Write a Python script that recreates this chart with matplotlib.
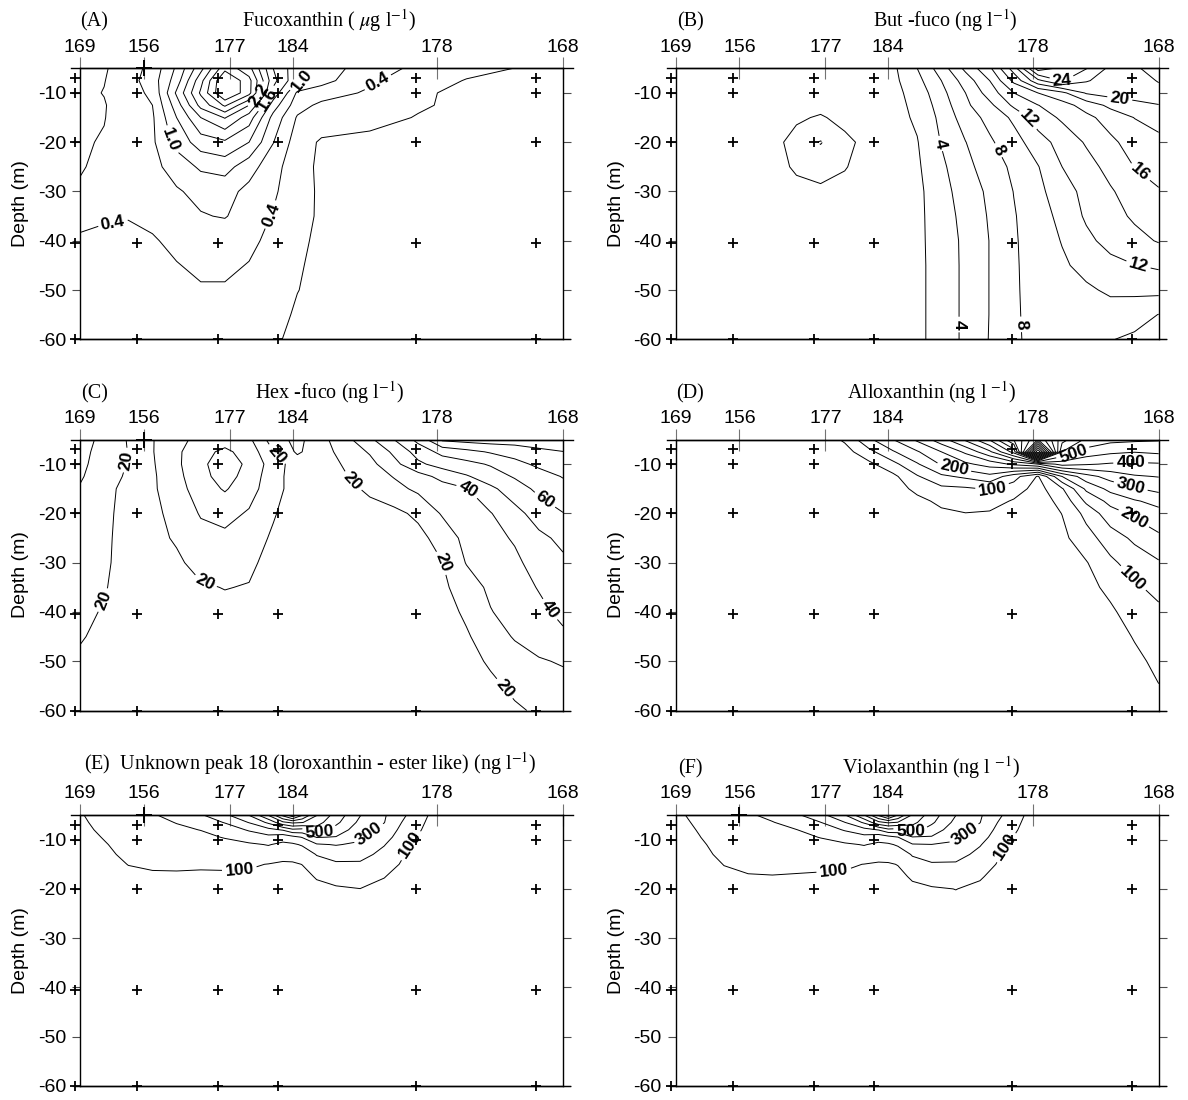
import numpy as np
import matplotlib
matplotlib.use('Agg')
import matplotlib.pyplot as plt

plt.rcParams['font.family'] = 'Liberation Sans'
plt.rcParams['mathtext.fontset'] = 'stix'
plt.rcParams['axes.unicode_minus'] = False

# stations along the transect (top axis), position in % of section length
stations = ['169', '156', '177', '184', '178', '168']
station_pos = [0, 13.2, 31.0, 44.0, 73.9, 100]
# positions of the casts actually sampled, and bottle depths (m)
cast_pos = [-1, 11.8, 28.6, 41.0, 69.6, 94.5]
bottle_depth = [-7, -10, -20, -40.5, -60]

# ---------------- (A) Fucoxanthin, ug/l  (rows = depth, cols = position)
fuco_x = [0, 5, 10, 15, 20, 25, 30, 35, 40, 45, 50, 60, 70, 80, 90, 100]
fuco_z = [-5, -7.5, -10, -12.5, -15, -20, -25, -30, -35, -40, -45, -50, -55, -60]
fuco = [
    [0.25, 0.37, 0.55, 0.80, 1.35, 2.10, 3.00, 2.60, 1.60, 1.10, 0.85, 0.55, 0.33, 0.16, 0.098, 0.07],
    [0.30, 0.39, 0.58, 0.85, 1.45, 2.40, 3.45, 2.90, 1.70, 1.05, 0.80, 0.46, 0.20, 0.09, 0.06, 0.05],
    [0.33, 0.41, 0.60, 0.75, 1.65, 2.55, 3.45, 2.90, 1.50, 0.65, 0.55, 0.35, 0.12, 0.07, 0.05, 0.04],
    [0.35, 0.38, 0.58, 0.70, 1.45, 2.30, 2.85, 2.20, 1.15, 0.52, 0.33, 0.20, 0.12, 0.06, 0.04, 0.03],
    [0.36, 0.39, 0.55, 0.66, 1.30, 1.90, 2.22, 1.75, 0.90, 0.37, 0.28, 0.16, 0.09, 0.05, 0.03, 0.02],
    [0.37, 0.42, 0.52, 0.65, 1.10, 1.45, 1.55, 1.30, 0.71, 0.25, 0.06, 0.05, 0.04, 0.03, 0.02, 0.02],
    [0.38, 0.46, 0.55, 0.62, 0.82, 1.05, 1.12, 0.82, 0.52, 0.20, 0.05, 0.04, 0.03, 0.03, 0.02, 0.02],
    [0.43, 0.48, 0.52, 0.58, 0.67, 0.78, 0.80, 0.62, 0.45, 0.20, 0.06, 0.04, 0.03, 0.02, 0.02, 0.02],
    [0.42, 0.42, 0.41, 0.45, 0.55, 0.68, 0.72, 0.55, 0.38, 0.19, 0.06, 0.04, 0.03, 0.02, 0.02, 0.02],
    [0.39, 0.36, 0.35, 0.38, 0.45, 0.50, 0.50, 0.45, 0.34, 0.15, 0.05, 0.04, 0.03, 0.02, 0.02, 0.02],
    [0.33, 0.30, 0.30, 0.33, 0.39, 0.44, 0.44, 0.39, 0.28, 0.12, 0.05, 0.04, 0.03, 0.02, 0.02, 0.02],
    [0.28, 0.26, 0.26, 0.28, 0.33, 0.38, 0.38, 0.32, 0.22, 0.105, 0.04, 0.03, 0.03, 0.02, 0.02, 0.02],
    [0.25, 0.24, 0.24, 0.25, 0.28, 0.30, 0.30, 0.26, 0.18, 0.07, 0.03, 0.03, 0.02, 0.02, 0.02, 0.02],
    [0.23, 0.22, 0.22, 0.23, 0.25, 0.26, 0.26, 0.22, 0.13, 0.05, 0.03, 0.03, 0.02, 0.02, 0.02, 0.02],
]
fuco_levels = [0.1, 0.4, 0.7, 1.0, 1.3, 1.6, 1.9, 2.2, 2.5, 2.8, 3.1]

# ---------------- (B) But-fuco, ng/l
but_x = [0, 10, 20, 25, 30, 35, 40, 45, 50, 55, 60, 65, 70, 75, 80, 85, 90, 95, 100]
but_z = [-5, -7.5, -10, -12.5, -15, -20, -25, -30, -35, -40, -45, -50, -55, -60]
but = [
    [1, 1, 1, 1, 1, 1, 1, 1.6, 4.0, 7.0, 10.5, 13.6, 19.0, 27.0, 25.5, 24.1, 21.5, 21.8, 22.6],
    [1, 1, 1, 1, 1, 1, 1, 1.5, 3.4, 6.0, 8.9, 12.0, 16.5, 21.5, 24.2, 22.2, 21.0, 21.3, 22.1],
    [1, 1, 1, 1, 1, 1, 1, 1.4, 2.8, 5.4, 8.0, 10.9, 14.0, 16.0, 17.5, 20.2, 20.8, 21.1, 21.5],
    [1, 1, 1, 1, 1, 1, 1, 1.35, 2.5, 4.9, 7.6, 9.5, 12.4, 13.95, 15.2, 16.8, 18.5, 19.3, 19.9],
    [1, 1, 1, 0.48, -0.35, 1.0, 1, 1.3, 2.3, 4.5, 7.0, 8.6, 10.4, 13.0, 14.3, 15.5, 16.8, 18.05, 18.6],
    [1, 1, 1, -1.13, -2.1, -0.8, 1, 1.2, 1.9, 4.1, 5.95, 7.7, 9.2, 11.1, 12.8, 14.2, 15.6, 16.8, 17.6],
    [1, 1, 1, -0.39, -1.0, -0.14, 1, 1.15, 1.7, 3.6, 5.4, 7.0, 8.4, 9.9, 12.0, 13.3, 14.6, 16.05, 16.5],
    [1, 1, 1, 0.75, 0.47, 0.71, 1, 1.1, 1.5, 3.3, 4.9, 6.4, 8.05, 9.5, 11.1, 12.6, 13.8, 14.9, 15.9],
    [1, 1, 1, 1, 1, 1, 1, 1.05, 1.5, 3.1, 4.6, 6.2, 7.85, 9.2, 10.5, 12.3, 13.3, 14.3, 15.0],
    [1, 1, 1, 1, 1, 1, 1, 1.0, 1.5, 3.0, 4.4, 6.05, 7.8, 8.9, 10.1, 11.5, 12.7, 13.4, 14.15],
    [1, 1, 1, 1, 1, 1, 1, 1.0, 1.5, 2.9, 4.4, 6.05, 7.8, 8.7, 9.7, 10.6, 11.4, 11.95, 12.3],
    [1, 1, 1, 1, 1, 1, 1, 1.0, 1.5, 2.9, 4.4, 6.05, 7.8, 8.6, 9.2, 9.7, 10.3, 10.4, 10.6],
    [1, 1, 1, 1, 1, 1, 1, 1.0, 1.5, 2.9, 4.4, 6.05, 7.8, 8.5, 8.9, 9.1, 9.2, 8.9, 7.95],
    [1, 1, 1, 1, 1, 1, 1, 1.0, 1.5, 2.9, 4.4, 6.1, 7.8, 8.4, 8.7, 8.6, 8.1, 7.6, 7.3],
]
but_levels = list(range(-2, 28, 2))

# ---------------- (C) Hex-fuco, ng/l
hex_x = list(range(0, 101, 5))
hex_z = [-5, -7.5, -10, -12.5, -15, -20, -25, -30, -35, -40, -45, -50, -55, -60]
hexf = [
    [17, 22, 19.8, 19.5, 27, 33, 36, 32, 15, 7, 17, 27, 38, 50, 63, 82, 84, 85, 85, 85, 86],
    [18, 22.5, 19.9, 19.5, 28, 37, 42, 36, 20.5, 8.5, 16, 24, 31, 42, 54, 63, 67, 71, 74, 78, 79.8],
    [19, 22, 19.8, 19, 28, 38, 45, 38, 25, 15, 16, 21, 27, 37, 48, 54, 57, 61, 67, 72, 76],
    [19.7, 21.5, 19.5, 18.5, 27, 37, 44, 36, 24, 15, 15.5, 19.5, 25, 30.5, 36, 43, 49, 55, 61, 66, 70.5],
    [20.2, 21, 19, 18.5, 26, 35, 41, 34, 24, 15, 14, 17, 22, 27, 32, 36, 39.5, 48, 55, 62.5, 67],
    [22, 21, 18.5, 18.5, 22, 31, 33, 29, 21, 14, 13, 14, 16, 17.5, 22, 31, 35, 39.5, 47, 54, 59.7],
    [22.5, 21, 18, 17.5, 21, 26, 28, 25, 18.5, 13, 12, 12, 13, 14.5, 17, 24, 33, 37, 41, 48, 52],
    [23, 21, 17.5, 16.5, 18.5, 23, 24, 22, 16.5, 12.5, 12, 12, 12.5, 13, 15, 19.8, 30.5, 34, 38, 44, 48.5],
    [22.5, 20.5, 17, 16, 17, 19, 20.3, 19.5, 15, 12.5, 12, 12, 12.5, 13, 14, 18, 25, 32, 36.5, 40.5, 44],
    [21.5, 19.5, 16.5, 15.5, 16, 17, 17.5, 17, 14, 12.5, 12, 12, 12, 12.5, 13, 16.5, 21.5, 29.5, 34, 38, 42],
    [20.5, 18.5, 16, 15, 15, 15.5, 16, 15.5, 13, 12, 11.5, 11.5, 12, 12.5, 13, 15.5, 19, 24.5, 31, 35, 38.5],
    [19, 17.5, 15.5, 14.5, 14.5, 14.5, 15, 14.5, 12.5, 12, 11.5, 11.5, 11.5, 12, 12.5, 14.5, 17.5, 21, 25, 29, 31],
    [18, 17, 15, 14, 14, 14, 14, 14, 12, 11.5, 11, 11, 11.5, 12, 12, 13.5, 16, 18.5, 21.5, 24.5, 26.5],
    [17.5, 16.5, 14.5, 13.5, 13.5, 13.5, 13.5, 13.5, 11.5, 11.5, 11, 11, 11, 11.5, 11.5, 13, 15, 17, 19, 21, 23],
]
hex_levels = [10, 20, 30, 40, 50, 60, 70, 80]

# ---------------- (D) Alloxanthin, ng/l
allo_x = [0, 10, 20, 30, 35, 40, 45, 50, 55, 60, 65, 70, 75, 80, 85, 90, 95, 100]
allo_z = [-5, -7.5, -10, -12.5, -15, -17.5, -20, -25, -30, -35, -40, -45, -50, -55, -60]
allo = [
    [10, 10, 10, 20, 58, 140, 200, 260, 330, 410, 505, 650, 800, 620, 540, 515, 510, 505],
    [10, 10, 10, 15, 30, 85, 145, 195, 250, 310, 390, 520, 1100, 550, 480, 460, 452, 460],
    [10, 10, 10, 12, 20, 38, 85, 145, 205, 240, 270, 310, 350, 420, 405, 395, 392, 395],
    [10, 10, 10, 12, 15, 20, 38, 95, 140, 160, 185, 120, 45, 200, 280, 320, 345, 352],
    [10, 10, 10, 12, 15, 15, 22, 65, 88, 92, 105, 75, 30, 95, 210, 265, 295, 315],
    [10, 10, 10, 12, 15, 15, 15, 35, 62, 70, 70, 45, 25, 65, 160, 215, 245, 265],
    [10, 10, 10, 12, 15, 15, 15, 25, 40, 49, 45, 35, 22, 51, 115, 180, 210, 235],
    [10, 10, 10, 12, 15, 15, 15, 18, 20, 25, 25, 25, 20, 38, 80, 125, 160, 190],
    [10, 10, 10, 12, 15, 15, 15, 18, 18, 20, 20, 20, 20, 30, 47, 90, 122, 145],
    [10, 10, 10, 12, 15, 15, 15, 18, 18, 20, 20, 20, 20, 25, 35, 62, 92, 115],
    [10, 10, 10, 12, 15, 15, 15, 18, 18, 20, 20, 20, 20, 20, 28, 42, 72, 90],
    [10, 10, 10, 12, 15, 15, 15, 18, 18, 20, 20, 20, 20, 20, 24, 30, 53, 72],
    [10, 10, 10, 12, 15, 15, 15, 18, 18, 20, 20, 20, 20, 20, 22, 25, 40, 60],
    [10, 10, 10, 12, 15, 15, 15, 18, 18, 20, 20, 20, 20, 20, 21, 22, 32, 49],
    [10, 10, 10, 12, 15, 15, 15, 18, 18, 20, 20, 20, 20, 20, 20, 20, 28, 42],
]
allo_levels = list(range(50, 1100, 50))

# ---------------- (E) unknown peak 18 and (F) violaxanthin, ng/l
# one list per position (surface to bottom)
top_x = [0, 5, 10, 15, 20, 25, 30, 35, 39, 42, 44, 46, 49, 53, 58, 63, 68, 73, 80, 90, 100]
top_z = [-5, -6.5, -8, -9.5, -11, -13, -15, -17.5, -20, -25, -40, -60]
loro_cols = [
    [95, 90, 85, 80, 75, 70, 65, 60, 55, 50, 45, 40],
    [125, 118, 111, 103, 96, 90, 84, 78, 72, 65, 55, 50],
    [155, 145, 136, 127, 119, 110, 101, 90, 82, 72, 60, 55],
    [190, 178, 165, 152, 140, 126, 108, 92, 83, 73, 60, 55],
    [240, 203, 185, 170, 155, 135, 112, 90, 80, 70, 60, 55],
    [290, 250, 202, 180, 160, 135, 110, 88, 80, 70, 60, 55],
    [380, 305, 250, 205, 175, 140, 112, 88, 80, 70, 60, 55],
    [505, 405, 310, 250, 185, 145, 108, 88, 80, 70, 60, 55],
    [710, 520, 370, 270, 205, 150, 98, 88, 80, 70, 60, 55],
    [930, 680, 410, 240, 180, 125, 90, 85, 80, 70, 60, 55],
    [1080, 720, 480, 270, 185, 125, 92, 85, 80, 70, 60, 55],
    [910, 705, 470, 305, 210, 140, 101, 82, 78, 70, 60, 55],
    [705, 640, 560, 405, 290, 205, 160, 105, 85, 72, 60, 55],
    [560, 525, 460, 395, 305, 240, 185, 130, 90, 70, 60, 55],
    [405, 375, 345, 320, 285, 235, 185, 140, 99, 75, 60, 55],
    [310, 302, 270, 240, 205, 170, 135, 102, 85, 70, 60, 55],
    [190, 160, 140, 120, 103, 88, 78, 70, 65, 60, 55, 50],
    [80, 72, 66, 62, 58, 55, 52, 50, 48, 46, 44, 42],
    [40, 38, 36, 35, 34, 33, 32, 31, 30, 30, 30, 30],
    [30, 29, 28, 27, 26, 25, 25, 25, 25, 25, 25, 25],
    [25, 24, 23, 22, 21, 20, 20, 20, 20, 20, 20, 20],
]
viola_cols = [
    [88, 84, 80, 76, 72, 68, 64, 60, 55, 50, 45, 40],
    [118, 110, 104, 99, 93, 88, 83, 78, 72, 65, 55, 50],
    [150, 142, 134, 126, 118, 110, 101, 92, 85, 74, 60, 55],
    [185, 172, 160, 148, 137, 124, 110, 97, 88, 75, 60, 55],
    [230, 195, 182, 166, 152, 134, 114, 98, 88, 75, 60, 55],
    [285, 245, 198, 178, 158, 134, 112, 96, 86, 73, 60, 55],
    [370, 298, 248, 203, 176, 140, 110, 94, 85, 72, 60, 55],
    [495, 398, 308, 248, 186, 146, 108, 92, 84, 72, 60, 55],
    [700, 515, 368, 268, 205, 150, 99, 90, 82, 72, 60, 55],
    [920, 675, 405, 240, 182, 128, 92, 86, 80, 70, 60, 55],
    [1060, 715, 475, 268, 186, 128, 94, 86, 80, 70, 60, 55],
    [900, 695, 465, 298, 212, 142, 102, 84, 79, 70, 60, 55],
    [690, 630, 545, 395, 292, 208, 165, 108, 87, 72, 60, 55],
    [550, 518, 455, 392, 298, 242, 190, 135, 92, 72, 60, 55],
    [402, 372, 342, 318, 285, 238, 188, 142, 101, 76, 60, 55],
    [312, 302, 272, 242, 207, 172, 138, 106, 88, 70, 60, 55],
    [192, 162, 142, 122, 104, 90, 80, 72, 66, 60, 55, 50],
    [82, 74, 68, 63, 59, 56, 53, 50, 48, 46, 44, 42],
    [40, 38, 36, 35, 34, 33, 32, 31, 30, 30, 30, 30],
    [30, 29, 28, 27, 26, 25, 25, 25, 25, 25, 25, 25],
    [25, 24, 23, 22, 21, 20, 20, 20, 20, 20, 20, 20],
]
top_levels = list(range(100, 1100, 100))


fig = plt.figure(figsize=(11.88, 11.0), dpi=100)
col_left = [80 / 1188, 675.7 / 1188]
row_top = [68.3, 439.5, 815.0]
W, H = 483 / 1188, 271 / 1100


def panel(r, c, xg, zg, field, levels, labels, fmt, tag, title, tx,
          ty=1.153, bold156=True):
    ax = fig.add_axes([col_left[c], 1 - (row_top[r] + 271) / 1100, W, H])
    field = np.asarray(field, float)
    plain = [lv for lv in levels if lv not in labels]
    ax.contour(xg, zg, field, levels=plain, colors='k', linewidths=0.7)
    # labelled levels get their own contour set so the labels sit where they
    # sit in the original
    for lv, spots in labels.items():
        cs = ax.contour(xg, zg, field, levels=[lv], colors='k', linewidths=0.7)
        cl = ax.clabel(cs, manual=spots, fmt=fmt, fontsize=12.5,
                       inline=True, inline_spacing=3)
        for t in cl:
            t.set_fontweight('bold')

    for xc in cast_pos:
        ax.plot([xc] * len(bottle_depth), bottle_depth, '+', color='k',
                ms=7, mew=1.3, clip_on=False, zorder=5)

    ax.set_xlim(0, 100)
    ax.set_ylim(-60, -5)
    ax.xaxis.tick_top()
    ax.set_xticks(station_pos)
    ax.set_xticklabels(stations)
    ax.tick_params(axis='x', direction='inout', length=16, width=0.8,
                   color='0.45', pad=1, labelsize=14)
    ax.set_yticks([-10, -20, -30, -40, -50, -60])
    ax.tick_params(axis='y', direction='out', length=6, width=0.8,
                   color='0.3', left=True, right=True, labelsize=14, pad=4)
    ax.set_ylabel('Depth (m)', fontsize=14, labelpad=6)
    for s in ax.spines.values():
        s.set_linewidth(1.0)
    if bold156:
        # heavier cross where station 156 meets the surface line
        ax.plot(station_pos[1], -5, '+', color='k', ms=12, mew=1.4,
                clip_on=False, zorder=6)
    # the frame lines run slightly past the plot area in the original
    ax.plot([-0.018, 1.02], [1, 1], transform=ax.transAxes, color='k',
            lw=1.0, clip_on=False)
    ax.plot([-0.01, 1.015], [0, 0], transform=ax.transAxes, color='k',
            lw=1.0, clip_on=False)

    serif = 'Liberation Serif'
    if tag:
        ax.text(0.03, ty, tag, transform=ax.transAxes, ha='center',
                va='baseline', family=serif, fontsize=14.5)
    ax.text(tx, ty, title, transform=ax.transAxes, ha='center',
            va='baseline', family=serif, fontsize=14.5)
    return ax


panel(0, 0, fuco_x, fuco_z, fuco, fuco_levels,
      {0.4: [(62.5, -9.2), (39, -34.5), (7, -37.5)],
       1.0: [(19, -19.5), (46, -8)],
       1.6: [(39.3, -11.6)],
       2.2: [(37.3, -10.8)]},
      '%.1f', '(A)', r'Fucoxanthin ( $\mu$g l$^{-1}$)', 0.516)

panel(0, 1, but_x, but_z, but, but_levels,
      {4: [(54.7, -20.3), (58.4, -57)],
       8: [(66.9, -21.6), (70.8, -57)],
       12: [(72.4, -15.8), (95.7, -45.3)],
       16: [(96, -26.3)],
       20: [(92, -10.7)],
       24: [(80, -7.4)]},
      '%d', '(B)', 'But -fuco (ng l$^{-1}$)', 0.559, bold156=False)

panel(1, 0, hex_x, hex_z, hexf, hex_levels,
      {20: [(9.5, -9.2), (4.8, -37.6), (25.8, -34.2), (39.7, -8.9),
            (56, -13.9), (76.6, -29.5), (88, -55.5)],
       40: [(80.6, -14.9), (97.6, -39.3)],
       60: [(96, -17.6)]},
      '%d', '(C)', 'Hex -fuco (ng l$^{-1}$)', 0.516)

panel(1, 1, allo_x, allo_z, allo, allo_levels,
      {500: [(82, -6.8)],
       400: [(94.2, -9.5)],
       300: [(94.2, -14.5)],
       200: [(94.6, -21.4), (57.6, -10.9)],
       100: [(95, -32.9), (65.5, -15)]},
      '%d', '(D)', 'Alloxanthin (ng l $^{-1}$)', 0.530, bold156=False)

panel(2, 0, top_x, top_z, np.array(loro_cols).T, top_levels,
      {100: [(33, -15.8), (68.3, -11.1)],
       500: [(49.6, -8.7)],
       300: [(60.3, -9.4)]},
      '%d', None,
      '(E)  Unknown peak 18 (loroxanthin - ester like) (ng l$^{-1}$)',
      0.476, ty=1.166)

panel(2, 1, top_x, top_z, np.array(viola_cols).T, top_levels,
      {100: [(32.7, -15.6), (67.8, -11.2)],
       500: [(48.5, -8.8)],
       300: [(60.3, -9.5)]},
      '%d', '(F)', 'Violaxanthin (ng l $^{-1}$)', 0.528)

fig.savefig('out.png', dpi=100)
